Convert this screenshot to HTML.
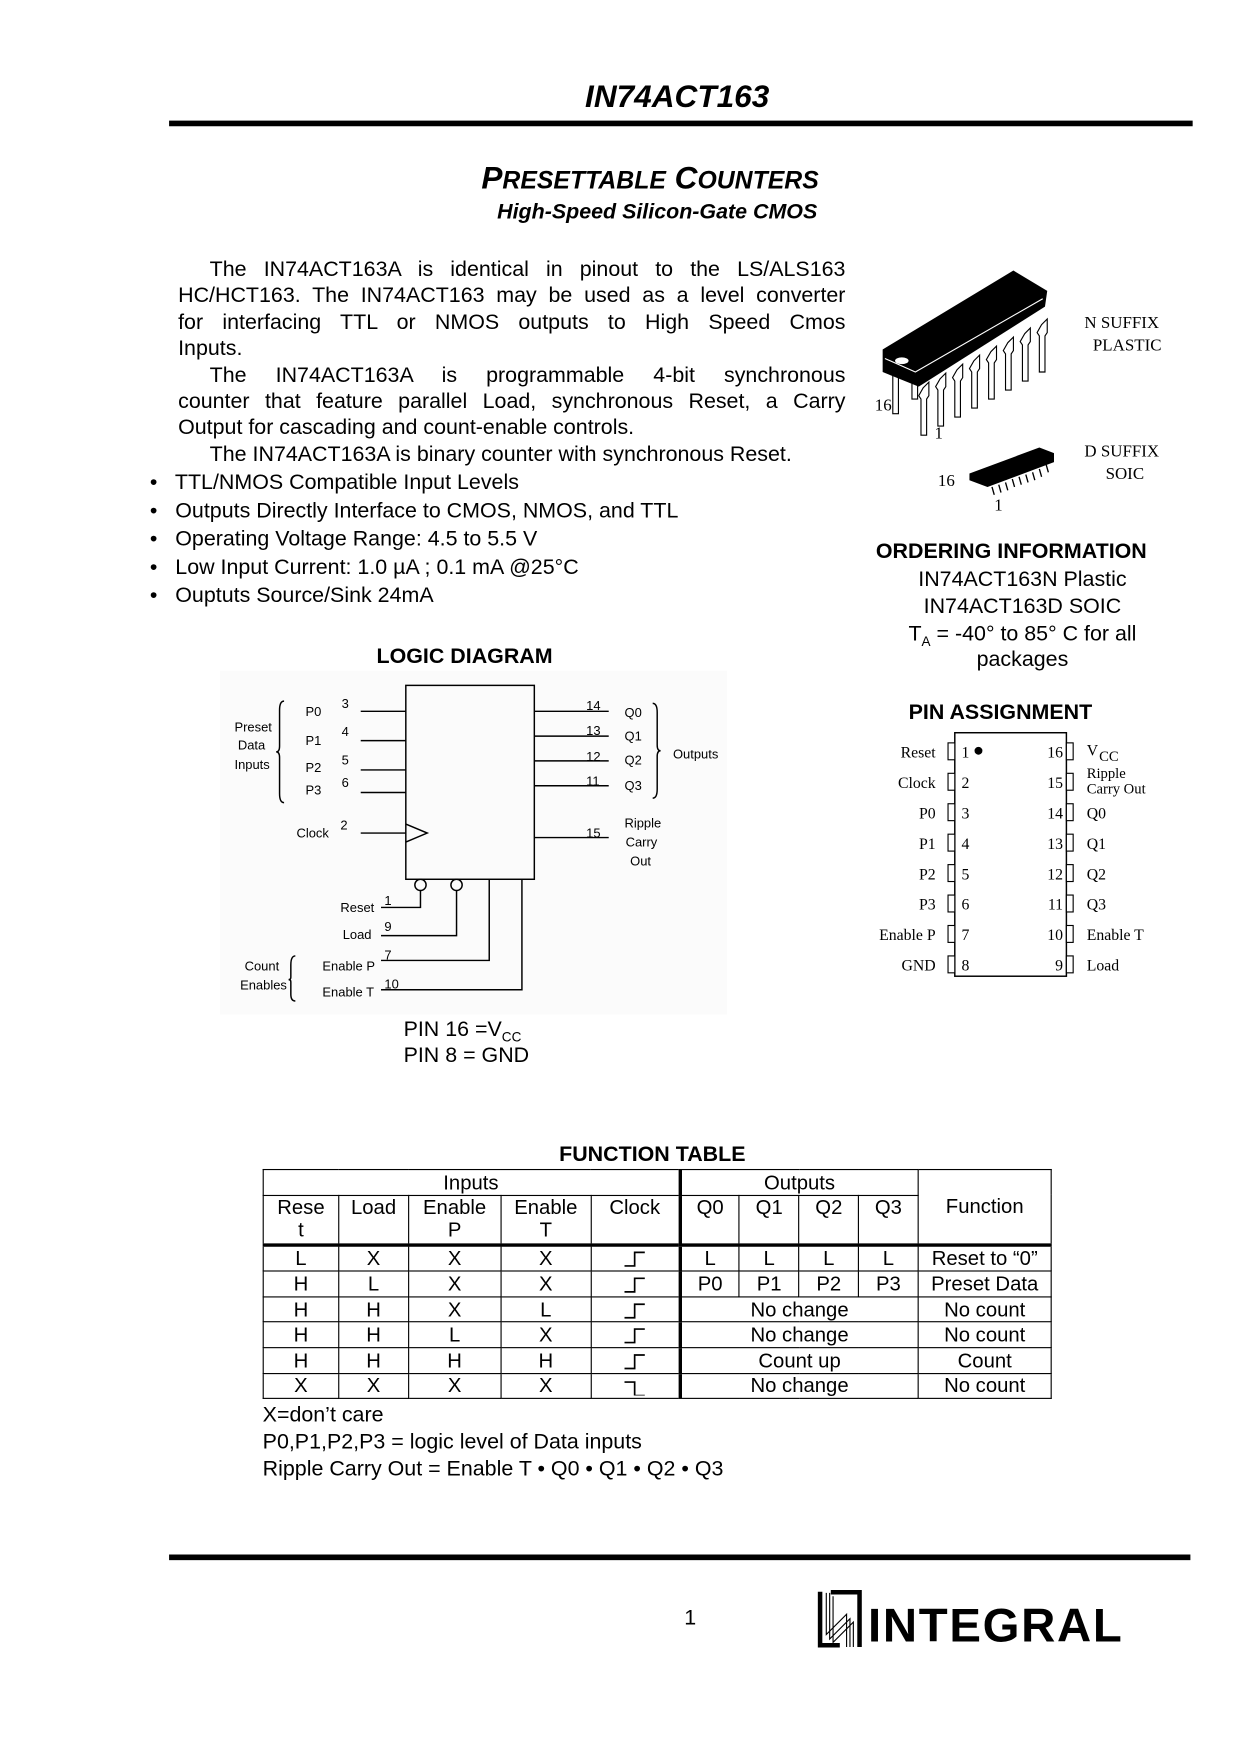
<!DOCTYPE html>
<html><head><meta charset="utf-8"><style>
html,body{margin:0;padding:0;background:#fff;}
body{width:1240px;height:1754px;overflow:hidden;position:relative;}
#p{position:absolute;left:0;top:0;width:1100px;height:1556px;transform:scale(1.12727);transform-origin:0 0;font-family:"Liberation Sans",Arial,sans-serif;color:#000;}
.a{position:absolute;white-space:nowrap;}
.s{font-family:"Liberation Serif",serif;}
.j{text-align:justify;text-align-last:justify;white-space:nowrap;}
sub{vertical-align:0;position:relative;top:5px;line-height:0;}
table{border-collapse:collapse;position:absolute;left:233px;top:1037px;width:700px;font-size:18px;}
td{border:1.5px solid #000;text-align:center;padding:0;height:21.6px;line-height:20px;}
td svg{display:block;margin:0 auto;}
</style></head><body><div id="p">
<div class="a" style="left:519px;top:70px;font-size:28px;font-weight:bold;font-style:italic;">IN74ACT163</div>
<div class="a" style="left:150px;top:107px;width:908px;height:5px;background:#000;"></div>
<div class="a" style="left:427px;top:142px;font-size:28px;font-weight:bold;font-style:italic;">P<span style="font-size:22px">RESETTABLE</span> C<span style="font-size:22px">OUNTERS</span></div>
<div class="a" style="left:441px;top:178px;font-size:19px;font-weight:bold;font-style:italic;">High-Speed Silicon-Gate CMOS</div>

<div class="a" style="left:158px;top:228px;width:592px;font-size:19px;line-height:23.4px;">
<div class="j" style="padding-left:28px">The IN74ACT163A is identical in pinout to the LS/ALS163</div>
<div class="j">HC/HCT163. The IN74ACT163 may be used as a level converter</div>
<div class="j">for interfacing TTL or NMOS outputs to High Speed Cmos</div>
<div>Inputs.</div>
<div class="j" style="padding-left:28px">The IN74ACT163A is programmable 4-bit synchronous</div>
<div class="j">counter that feature parallel Load, synchronous Reset, a Carry</div>
<div>Output for cascading and count-enable controls.</div>
<div style="padding-left:28px">The IN74ACT163A is binary counter with synchronous Reset.</div>
</div>
<div class="a" style="left:133px;top:416px;font-size:19px;line-height:25px;">
<div>•&nbsp;&nbsp; TTL/NMOS Compatible Input Levels</div>
<div>•&nbsp;&nbsp; Outputs Directly Interface to CMOS, NMOS, and TTL</div>
<div>•&nbsp;&nbsp; Operating Voltage Range: 4.5 to 5.5 V</div>
<div>•&nbsp;&nbsp; Low Input Current: 1.0 µA ; 0.1 mA @25°C</div>
<div>•&nbsp;&nbsp; Ouptuts Source/Sink 24mA</div>
</div>

<!-- chips -->
<svg class="a" style="left:760px;top:230px" width="200" height="235" viewBox="760 230 200 235">
<g fill="#fff" stroke="#000" stroke-width="1">
<rect x="792" y="325" width="5" height="42"/><rect x="809" y="332" width="5" height="22"/>
<path d="M819 344 l5 -5 v12 l-2 3 v32 h-5 v-32 l-2 -3 z"/>
<path d="M834 336 l5 -5 v12 l-2 3 v32 h-5 v-32 l-2 -3 z"/>
<path d="M849 328 l5 -5 v12 l-2 3 v32 h-5 v-32 l-2 -3 z"/>
<path d="M864 320 l5 -5 v12 l-2 3 v32 h-5 v-32 l-2 -3 z"/>
<path d="M879 312 l5 -5 v12 l-2 3 v32 h-5 v-32 l-2 -3 z"/>
<path d="M894 304 l5 -5 v12 l-2 3 v32 h-5 v-32 l-2 -3 z"/>
<path d="M909 296 l5 -5 v12 l-2 3 v32 h-5 v-32 l-2 -3 z"/>
<path d="M924 288 l5 -5 v12 l-2 3 v32 h-5 v-32 l-2 -3 z"/>
</g>
<path d="M783 310 L899 240 L929 258 L927 272 L815 343 L783 330 Z" fill="#000"/>
<path d="M785 318 L812 330 L925 265" fill="none" stroke="#fff" stroke-width="1"/>
<ellipse cx="800" cy="320" rx="6" ry="3" fill="#fff"/>
<path d="M860 420 L922 397 L935 402 L935 410 L876 432 L860 426 Z" fill="#000"/>
<g stroke="#000" fill="none" stroke-width="1.2"><path d="M880 432 l2 7 M886 430 l2 7 M892 428 l2 7 M898 425 l2 7 M904 423 l2 7 M910 421 l2 7 M916 419 l2 7 M922 416 l2 7 M928 412 l2 7"/></g>
</svg>
<div class="a s" style="left:962px;top:277px;font-size:15px;line-height:20px;">N SUFFIX<br>&nbsp;&nbsp;PLASTIC</div>
<div class="a s" style="left:776px;top:352px;font-size:15px;">16</div>
<div class="a s" style="left:829px;top:377px;font-size:15px;">1</div>
<div class="a s" style="left:962px;top:391px;font-size:15px;line-height:20px;">D SUFFIX<br>&nbsp;&nbsp;&nbsp;&nbsp;&nbsp;SOIC</div>
<div class="a s" style="left:832px;top:419px;font-size:15px;">16</div>
<div class="a s" style="left:882px;top:441px;font-size:15px;">1</div>

<div class="a" style="left:777px;top:479px;font-size:19px;font-weight:bold;">ORDERING INFORMATION</div>
<div class="a" style="left:760px;top:503px;width:294px;text-align:center;font-size:19px;line-height:23.8px;">IN74ACT163N Plastic<br>IN74ACT163D SOIC<br>T<sub style="font-size:12px">A</sub> = -40° to 85° C for all<br>packages</div>

<div class="a" style="left:806px;top:622px;font-size:19px;font-weight:bold;">PIN ASSIGNMENT</div>
<svg class="a" style="left:760px;top:645px" width="300" height="230" viewBox="760 645 300 230">
<rect x="847" y="650" width="99" height="216" fill="none" stroke="#000" stroke-width="1.3"/>
<g fill="#fff" stroke="#000" stroke-width="1">
<rect x="841" y="659" width="6" height="15"/><rect x="841" y="686" width="6" height="15"/><rect x="841" y="713" width="6" height="15"/><rect x="841" y="740" width="6" height="15"/><rect x="841" y="767" width="6" height="15"/><rect x="841" y="794" width="6" height="15"/><rect x="841" y="821" width="6" height="15"/><rect x="841" y="848" width="6" height="15"/>
<rect x="946" y="659" width="6" height="15"/><rect x="946" y="686" width="6" height="15"/><rect x="946" y="713" width="6" height="15"/><rect x="946" y="740" width="6" height="15"/><rect x="946" y="767" width="6" height="15"/><rect x="946" y="794" width="6" height="15"/><rect x="946" y="821" width="6" height="15"/><rect x="946" y="848" width="6" height="15"/>
</g>
<circle cx="868" cy="666" r="3.5" fill="#000"/>
<g font-family="Liberation Serif,serif" font-size="14" text-anchor="end">
<text x="830" y="672">Reset</text><text x="830" y="699">Clock</text><text x="830" y="726">P0</text><text x="830" y="753">P1</text><text x="830" y="780">P2</text><text x="830" y="807">P3</text><text x="830" y="834">Enable P</text><text x="830" y="861">GND</text>
<text x="943" y="672">16</text><text x="943" y="699">15</text><text x="943" y="726">14</text><text x="943" y="753">13</text><text x="943" y="780">12</text><text x="943" y="807">11</text><text x="943" y="834">10</text><text x="943" y="861">9</text>
</g>
<g font-family="Liberation Serif,serif" font-size="14">
<text x="853" y="672">1</text><text x="853" y="699">2</text><text x="853" y="726">3</text><text x="853" y="753">4</text><text x="853" y="780">5</text><text x="853" y="807">6</text><text x="853" y="834">7</text><text x="853" y="861">8</text>
<text x="964" y="670">V</text><text x="975" y="675" font-size="13">CC</text>
<text x="964" y="690" font-size="13">Ripple</text><text x="964" y="704" font-size="13">Carry Out</text>
<text x="964" y="726">Q0</text><text x="964" y="753">Q1</text><text x="964" y="780">Q2</text><text x="964" y="807">Q3</text><text x="964" y="834">Enable T</text><text x="964" y="861">Load</text>
</g>
</svg>

<div class="a" style="left:334px;top:572px;font-size:19px;font-weight:bold;">LOGIC DIAGRAM</div>
<svg class="a" style="left:195px;top:595px" width="450" height="310" viewBox="195 595 450 310">
<rect x="195" y="595" width="450" height="305" fill="#fbfbfb"/>
<g stroke="#000" stroke-width="1.3" fill="none">
<rect x="360" y="608" width="114" height="172"/>
<path d="M320 631h40M320 657h40M320 683h40M320 703h40M320 739h40"/>
<path d="M360 731 L379 739 L360 747"/>
<path d="M474 631h66M474 653h66M474 675h66M474 697h66M474 743h66"/>
<circle cx="373" cy="785" r="5"/><circle cx="405" cy="785" r="5"/>
<path d="M373 790 V805 H338 M405 790 V830 H338 M434 780 V852 H338 M463 780 V878 H338"/>
<path d="M252 622 q-4 0 -4 8 v32 q0 5 -3 5 q3 0 3 5 v32 q0 8 4 8"/>
<path d="M579 624 q4 0 4 8 v29 q0 5 3 5 q-3 0 -3 5 v29 q0 8 -4 8"/>
<path d="M262 848 q-4 0 -4 8 v11 q0 2 -2 2 q2 0 2 2 v11 q0 6 4 6"/>
</g>
<g font-size="11.5" font-family="Liberation Sans,Arial,sans-serif">
<text x="271" y="635">P0</text><text x="271" y="661">P1</text><text x="271" y="685">P2</text><text x="271" y="705">P3</text>
<text x="303" y="628">3</text><text x="303" y="653">4</text><text x="303" y="678">5</text><text x="303" y="698">6</text>
<text x="263" y="743">Clock</text><text x="302" y="736">2</text>
<text x="208" y="649">Preset</text><text x="211" y="665">Data</text><text x="208" y="682">Inputs</text>
<text x="520" y="630">14</text><text x="520" y="652">13</text><text x="520" y="675">12</text><text x="520" y="697">11</text><text x="520" y="743">15</text>
<text x="554" y="636">Q0</text><text x="554" y="657">Q1</text><text x="554" y="678">Q2</text><text x="554" y="701">Q3</text>
<text x="597" y="673">Outputs</text>
<text x="554" y="734">Ripple</text><text x="555" y="751">Carry</text><text x="559" y="768">Out</text>
<text x="302" y="809">Reset</text><text x="304" y="833">Load</text><text x="286" y="861">Enable P</text><text x="286" y="884">Enable T</text>
<text x="341" y="803">1</text><text x="341" y="826">9</text><text x="341" y="851">7</text><text x="341" y="877">10</text>
<text x="217" y="861">Count</text><text x="213" y="878">Enables</text>
</g>
</svg>
<div class="a" style="left:358px;top:902px;font-size:19px;line-height:23px;">PIN 16 =V<sub style="font-size:12px">CC</sub><br>PIN 8 = GND</div>

<div class="a" style="left:496px;top:1014px;font-size:19px;font-weight:bold;">FUNCTION TABLE</div>
<table>
<colgroup><col style="width:67px"><col style="width:62px"><col style="width:82px"><col style="width:80px"><col style="width:79px"><col style="width:53px"><col style="width:53px"><col style="width:53px"><col style="width:53px"><col style="width:118px"></colgroup>
<tr><td colspan="5">Inputs</td><td colspan="4" style="border-left-width:3px">Outputs</td><td rowspan="2">Function</td></tr>
<tr style="border-bottom:3px solid #000"><td style="height:42px;vertical-align:top">Rese<br>t</td><td style="vertical-align:top">Load</td><td style="vertical-align:top">Enable<br>P</td><td style="vertical-align:top">Enable<br>T</td><td style="vertical-align:top">Clock</td><td style="vertical-align:top;border-left-width:3px">Q0</td><td style="vertical-align:top">Q1</td><td style="vertical-align:top">Q2</td><td style="vertical-align:top">Q3</td></tr>
<tr><td>L</td><td>X</td><td>X</td><td>X</td><td><svg width="22" height="18"><path d="M2 16H11V4H20" fill="none" stroke="#000" stroke-width="1.5"/></svg></td><td style="border-left-width:3px">L</td><td>L</td><td>L</td><td>L</td><td>Reset to “0”</td></tr>
<tr><td>H</td><td>L</td><td>X</td><td>X</td><td><svg width="22" height="18"><path d="M2 16H11V4H20" fill="none" stroke="#000" stroke-width="1.5"/></svg></td><td style="border-left-width:3px">P0</td><td>P1</td><td>P2</td><td>P3</td><td>Preset Data</td></tr>
<tr><td>H</td><td>H</td><td>X</td><td>L</td><td><svg width="22" height="18"><path d="M2 16H11V4H20" fill="none" stroke="#000" stroke-width="1.5"/></svg></td><td colspan="4" style="border-left-width:3px">No change</td><td>No count</td></tr>
<tr><td>H</td><td>H</td><td>L</td><td>X</td><td><svg width="22" height="18"><path d="M2 16H11V4H20" fill="none" stroke="#000" stroke-width="1.5"/></svg></td><td colspan="4" style="border-left-width:3px">No change</td><td>No count</td></tr>
<tr><td>H</td><td>H</td><td>H</td><td>H</td><td><svg width="22" height="18"><path d="M2 16H11V4H20" fill="none" stroke="#000" stroke-width="1.5"/></svg></td><td colspan="4" style="border-left-width:3px">Count up</td><td>Count</td></tr>
<tr><td>X</td><td>X</td><td>X</td><td>X</td><td><svg width="22" height="18"><path d="M2 6H11V18H20" fill="none" stroke="#000" stroke-width="1.5"/></svg></td><td colspan="4" style="border-left-width:3px">No change</td><td>No count</td></tr>
</table>
<div class="a" style="left:233px;top:1244px;font-size:19px;line-height:24px;">X=don’t care<br>P0,P1,P2,P3 = logic level of Data inputs<br>Ripple Carry Out = Enable T • Q0 • Q1 • Q2 • Q3</div>

<div class="a" style="left:150px;top:1379px;width:906px;height:5px;background:#000;"></div>
<div class="a" style="left:607px;top:1425px;font-size:19px;">1</div>
<svg class="a" style="left:725px;top:1410px" width="40" height="52" viewBox="0 0 40 52">
<path d="M2.5 2 V49.5 H20" fill="none" stroke="#000" stroke-width="4"/>
<path d="M12 2.5 H37.5 V51" fill="none" stroke="#000" stroke-width="4"/>
<g fill="none" stroke="#000" stroke-width="1"><path d="M8 3 V40 L26 22 V51"/><path d="M11 3 V44 L29 26 V51"/><path d="M14 6 V47 L32 29 V51"/></g>
</svg>
<div class="a" style="left:770px;top:1418px;font-size:42px;font-weight:bold;letter-spacing:1.5px;">INTEGRAL</div>
</div></body></html>
